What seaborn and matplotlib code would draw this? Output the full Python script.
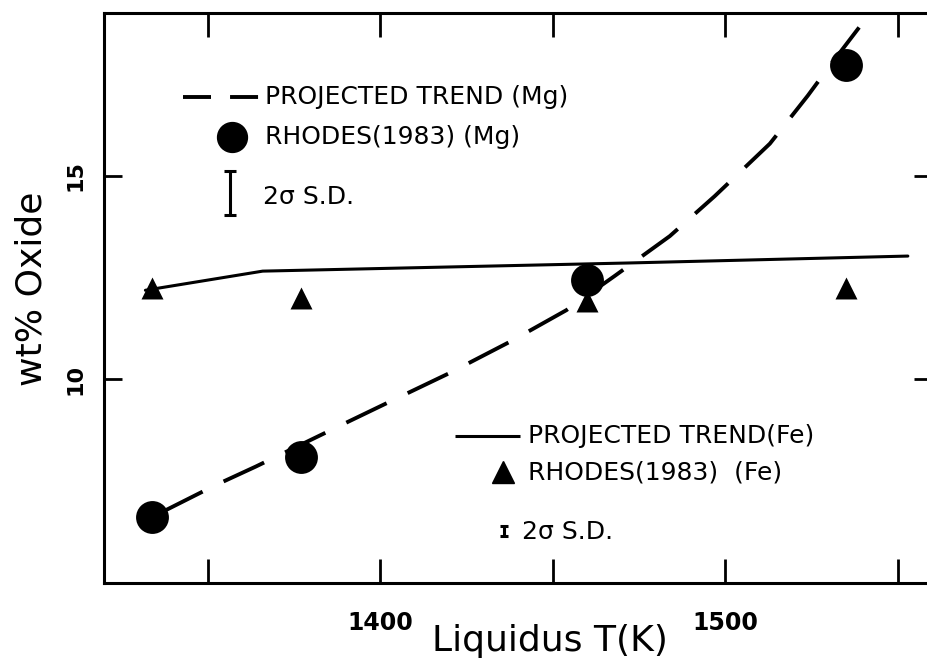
import matplotlib
matplotlib.use("Agg")
import matplotlib.pyplot as plt
import seaborn as sns
import pandas as pd

# Liquidus temperatures (K) of the Rhodes (1983) samples
temps = [1334, 1377, 1460, 1535]
mg_oxide = [6.63, 8.10, 12.44, 17.73]   # MgO wt%
fe_oxide = [12.24, 12.00, 11.93, 12.24]  # FeO wt%

# Projected trend for Fe (solid line)
fe_trend_t = [1332, 1366, 1472, 1553]
fe_trend_wt = [12.19, 12.66, 12.86, 13.03]

# Projected trend for Mg (dashed curve)
mg_trend_t = [1337, 1352, 1364, 1391, 1403, 1420, 1438, 1454, 1468,
              1484, 1497, 1513, 1524, 1530, 1540]
mg_trend_wt = [6.75, 7.39, 7.86, 8.97, 9.46, 10.15, 10.94, 11.70, 12.54,
               13.52, 14.50, 15.79, 16.97, 17.66, 18.77]

# 2-sigma standard deviations (full bar length, wt%)
sd_mg = 1.1
sd_fe = 0.25

x_ticks = [1350, 1400, 1450, 1500, 1550]
x_tick_labels = ["", "1400", "", "1500", ""]
y_ticks = [10, 15]
y_tick_labels = ["10", "15"]

sns.set_theme(style="ticks")
plt.rcParams["font.family"] = ["DejaVu Sans"]

fig = plt.figure(figsize=(9.28, 6.68), dpi=100)
ax = fig.add_axes([104 / 928, 85 / 668, 828 / 928, 570 / 668])

samples = pd.DataFrame({"T": temps, "Mg": mg_oxide, "Fe": fe_oxide})
fe_line = pd.DataFrame({"T": fe_trend_t, "wt": fe_trend_wt})
mg_line = pd.DataFrame({"T": mg_trend_t, "wt": mg_trend_wt})

sns.lineplot(data=fe_line, x="T", y="wt", ax=ax, color="black", lw=2.2,
             estimator=None, sort=False)
sns.lineplot(data=mg_line, x="T", y="wt", ax=ax, color="black", lw=2.8,
             estimator=None, sort=False, dashes=False)
ax.lines[-1].set_dashes((11.5, 6))
sns.scatterplot(data=samples, x="T", y="Mg", ax=ax, color="black",
                marker="o", s=560, edgecolor="black", linewidth=0, zorder=3)
sns.scatterplot(data=samples, x="T", y="Fe", ax=ax, color="black",
                marker="^", s=250, edgecolor="black", linewidth=0, zorder=3)

ax.set_xlim(1320, 1560)
ax.set_ylim(5, 19)

ax.set_xticks(x_ticks)
ax.set_xticklabels(x_tick_labels, fontsize=17, fontweight="bold")
ax.set_yticks(y_ticks)
ax.set_yticklabels(y_tick_labels, fontsize=16, fontweight="bold",
                   rotation=90, va="center")
ax.tick_params(axis="x", which="both", direction="in", length=17, width=2,
               top=True, bottom=True, pad=20, colors="black")
ax.tick_params(axis="y", which="both", direction="in", length=13, width=2,
               left=True, right=True, pad=13, colors="black")
for s in ax.spines.values():
    s.set_linewidth(2.2)
    s.set_color("black")

ax.set_xlabel("Liquidus T(K)", fontsize=26, color="black", va="top")
ax.xaxis.set_label_coords(0.539, -0.072)
ax.set_ylabel("wt% Oxide", fontsize=26, color="black", va="center")
ax.yaxis.set_label_coords(-0.087, 0.516)

# Key for the Mg series (upper left)
tr = ax.transAxes
key_fs = 18
ax.plot([0.0954, 0.1887], [0.8526, 0.8526], transform=tr, color="black",
        lw=2.8, dashes=(7.2, 4.9), solid_capstyle="butt",
        dash_capstyle="butt")
ax.text(0.194, 0.8526, "PROJECTED TREND (Mg)", transform=tr, fontsize=key_fs,
        va="center", ha="left", color="black")
ax.plot([0.1546], [0.7825], transform=tr, marker="o", ms=21.5,
        color="black", ls="none")
ax.text(0.194, 0.7825, "RHODES(1983) (Mg)", transform=tr, fontsize=key_fs,
        va="center", ha="left", color="black")
ax.errorbar([1356.5], [14.58], yerr=[sd_mg / 2], color="black", lw=2.2,
            capsize=4, capthick=2.2, fmt="none")
ax.text(0.192, 0.677, "2σ S.D.", transform=tr, fontsize=key_fs,
        va="center", ha="left", color="black")

# Key for the Fe series (lower right)
ax.plot([0.4239, 0.5024], [0.2579, 0.2579], transform=tr, color="black",
        lw=2.2, solid_capstyle="butt")
ax.text(0.512, 0.2579, "PROJECTED TREND(Fe)", transform=tr, fontsize=key_fs,
        va="center", ha="left", color="black")
ax.plot([0.4819], [0.1947], transform=tr, marker="^", ms=15.8,
        color="black", ls="none")
ax.text(0.512, 0.1947, "RHODES(1983)  (Fe)", transform=tr, fontsize=key_fs,
        va="center", ha="left", color="black")
ax.errorbar([1436], [6.28], yerr=[sd_fe / 2], color="black", lw=2.2,
            capsize=3, capthick=2.2, fmt="none")
ax.text(0.5048, 0.0895, "2σ S.D.", transform=tr, fontsize=key_fs,
        va="center", ha="left", color="black")

fig.savefig("out.png", dpi=100, facecolor="white")
